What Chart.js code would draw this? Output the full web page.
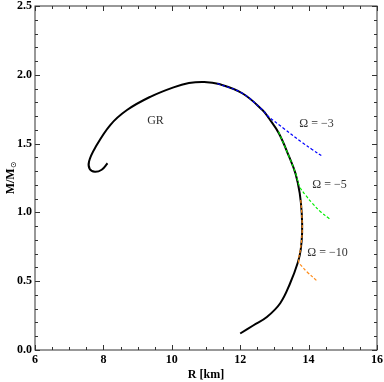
<!DOCTYPE html>
<html>
<head>
<meta charset="utf-8">
<script src="https://cdn.jsdelivr.net/npm/chart.js@4"></script>
<style>
  html, body { margin: 0; padding: 0; background: #fff; }
</style>
</head>
<body>
<canvas id="mrChart" width="384" height="382"></canvas>
<script>
// mass-radius curves, R in km, M in solar masses
const grR = [12.00, 12.39, 12.78, 13.17, 13.46, 13.69, 13.77, 13.81, 13.80, 13.74, 13.62, 13.43, 13.13, 12.84, 12.65, 12.06, 11.38, 10.95, 10.50, 10.05, 9.37, 8.69, 8.20, 7.76, 7.58, 7.60, 7.75, 7.95, 8.12];
const grM = [0.12, 0.18, 0.24, 0.34, 0.485, 0.64, 0.73, 0.85, 0.99, 1.14, 1.28, 1.405, 1.575, 1.684, 1.744, 1.866, 1.933, 1.948, 1.940, 1.909, 1.840, 1.744, 1.635, 1.470, 1.370, 1.315, 1.295, 1.310, 1.357];

const om3R = [11.33, 12.06, 12.65, 12.83, 13.30, 13.80, 14.10, 14.42];
const om3M = [1.937, 1.866, 1.744, 1.696, 1.605, 1.510, 1.458, 1.405];

const om5R = [13.12, 13.43, 13.62, 13.74, 13.91, 14.11, 14.35, 14.61];
const om5M = [1.587, 1.405, 1.284, 1.187, 1.126, 1.066, 1.005, 0.954];

const om10R = [13.77, 13.80, 13.81, 13.76, 13.71, 13.81, 13.95, 14.25];
const om10M = [1.09, 0.99, 0.85, 0.73, 0.642, 0.606, 0.569, 0.501];

const xTicks = [6, 8, 10, 12, 14, 16];
const yTicks = [0.0, 0.5, 1.0, 1.5, 2.0, 2.5];

// text labels placed in data coordinates (left edge, vertical centre)
const labels = [
  { text: 'GR', x: 9.28, y: 1.664 },
  { text: 'Ω = −3', x: 13.73, y: 1.642 },
  { text: 'Ω = −5', x: 14.11, y: 1.199 },
  { text: 'Ω = −10', x: 13.96, y: 0.705 }
];

const pts = (rs, ms) => rs.map((r, i) => ({ x: r, y: ms[i] }));

const frameAndTicks = {
  id: 'frameAndTicks',
  afterDraw(chart) {
    const c = chart.ctx, a = chart.chartArea;
    const xs = chart.scales.x, ys = chart.scales.y;
    c.save();
    c.strokeStyle = '#333';
    c.lineWidth = 1;
    c.strokeRect(a.left, a.top, a.right - a.left, a.bottom - a.top);
    c.beginPath();
    for (let v = 6; v <= 16.001; v += 0.5) {
      const px = Math.round(xs.getPixelForValue(v)) + 0.5;
      const len = Math.abs(v % 2) < 1e-6 ? 5 : 3;
      c.moveTo(px, a.bottom); c.lineTo(px, a.bottom - len);
      c.moveTo(px, a.top); c.lineTo(px, a.top + len);
    }
    for (let v = 0; v <= 2.5001; v += 0.1) {
      const py = Math.round(ys.getPixelForValue(v)) + 0.5;
      const len = Math.abs(Math.round(v * 10) % 5) === 0 ? 5 : 3;
      c.moveTo(a.left, py); c.lineTo(a.left + len, py);
      c.moveTo(a.right, py); c.lineTo(a.right - len, py);
    }
    c.stroke();

    // annotations
    c.fillStyle = '#333';
    c.font = '12px "Liberation Serif"';
    c.textBaseline = 'middle';
    c.textAlign = 'left';
    labels.forEach(l => c.fillText(l.text, xs.getPixelForValue(l.x), ys.getPixelForValue(l.y)));

    // axis titles
    c.fillStyle = '#000';
    c.font = 'bold 12px "Liberation Serif"';
    c.textAlign = 'center';
    c.fillText('R [km]', (a.left + a.right) / 2, 375);
    c.translate(11, 178);
    c.rotate(-Math.PI / 2);
    c.textAlign = 'left';
    const w1 = c.measureText('M/M').width;
    c.font = '8px "DejaVu Sans"';
    const w2 = c.measureText('⊙').width;
    const x0 = -(w1 + w2) / 2;
    c.font = 'bold 12px "Liberation Serif"';
    c.fillText('M/M', x0, 0);
    c.font = '8px "DejaVu Sans"';
    c.fillText('⊙', x0 + w1, 3);
    c.restore();
  }
};

const tickFont = { family: 'Liberation Serif', size: 12, weight: 'bold' };

new Chart(document.getElementById('mrChart').getContext('2d'), {
  type: 'scatter',
  data: {
    datasets: [
      { label: 'GR', data: pts(grR, grM), borderColor: '#000', borderWidth: 2, order: 4 },
      { label: 'Ω = −3', data: pts(om3R, om3M), borderColor: '#0000ff', borderWidth: 1.2, borderDash: [3, 2], order: 3 },
      { label: 'Ω = −5', data: pts(om5R, om5M), borderColor: '#00ee00', borderWidth: 1.2, borderDash: [3, 2], order: 2 },
      { label: 'Ω = −10', data: pts(om10R, om10M), borderColor: '#ff8c1a', borderWidth: 1.2, borderDash: [3, 2], order: 1 }
    ]
  },
  options: {
    responsive: false,
    animation: false,
    devicePixelRatio: 1,
    showLine: true,
    elements: { point: { radius: 0 }, line: { tension: 0.4, fill: false } },
    layout: { padding: { top: 0, right: 7, left: 0, bottom: 0 } },
    plugins: { legend: { display: false }, tooltip: { enabled: false } },
    scales: {
      x: {
        type: 'linear', min: 6, max: 16,
        afterBuildTicks: s => { s.ticks = xTicks.map(v => ({ value: v })); },
        afterFit: s => { s.height = 32; s.paddingLeft = 0; s.paddingRight = 0; },
        grid: { display: false, drawTicks: false },
        border: { display: false },
        ticks: { font: tickFont, color: '#000', padding: 3, maxRotation: 0, callback: v => String(v) }
      },
      y: {
        type: 'linear', min: 0, max: 2.5,
        afterBuildTicks: s => { s.ticks = yTicks.map(v => ({ value: v })); },
        afterFit: s => { s.width = 35; s.paddingTop = 6; s.paddingBottom = 0; },
        grid: { display: false, drawTicks: false },
        border: { display: false },
        ticks: { font: tickFont, color: '#000', padding: 3, callback: v => Number(v).toFixed(1) }
      }
    }
  },
  plugins: [frameAndTicks]
});
</script>
</body>
</html>
